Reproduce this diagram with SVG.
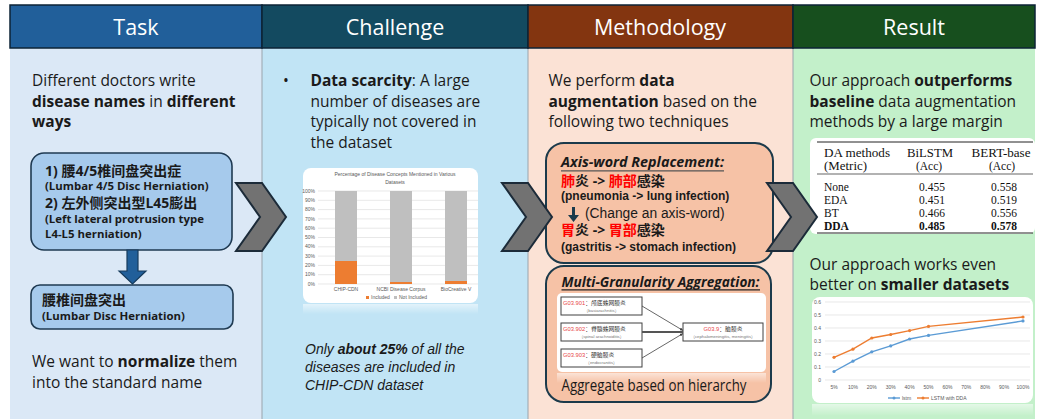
<svg xmlns="http://www.w3.org/2000/svg" width="1038" height="419" viewBox="0 0 1038 419">
<defs>
<style>
.hd{font-family:"Open Sans","Noto Sans",sans-serif;font-size:21.5px;fill:#ffffff;text-anchor:middle}
.bd{font-family:"Open Sans","Noto Sans CJK SC",sans-serif;font-size:15.5px;fill:#1a1a1a}
.b{font-weight:bold}
.it{font-family:"Liberation Sans",Arial,sans-serif;font-style:italic;font-size:14px;fill:#1a1a1a}
.sm{font-family:"Open Sans","Noto Sans CJK SC",sans-serif;font-weight:bold;font-size:11.4px;fill:#1a1a1a}
.sl{font-family:"Liberation Sans",Arial,sans-serif;font-weight:bold;font-size:12px;fill:#1a1a1a}
.cn{font-family:"Open Sans","Noto Sans CJK SC",sans-serif;font-weight:bold;font-size:14px;fill:#1a1a1a}
.red{fill:#ff0000}
.tiny{font-family:"Liberation Sans",Arial,sans-serif;font-size:5px;fill:#595959}
.tb{font-family:"Liberation Serif","Times New Roman",serif;font-size:11.5px;fill:#111111}
.chev{fill:#727272;stroke:#1c2b39;stroke-width:2;stroke-linejoin:miter}
.bluebox{fill:#a6caec;stroke:#1f3a52;stroke-width:1.6}
.salbox{fill:#f6c2a6;stroke:#1b3a4b;stroke-width:2}
.grid{stroke:#d9d9d9;stroke-width:0.6}
.mbox{fill:#ffffff;stroke:#404040;stroke-width:1}
.mt{font-family:"Liberation Sans","Noto Sans CJK SC",sans-serif;font-size:5.8px;fill:#333333}
.ms{font-family:"Liberation Sans","Noto Sans CJK SC",sans-serif;font-size:4.3px;fill:#777777}
.mred{fill:#e8474a}
.bi{font-family:"Open Sans","Noto Sans",sans-serif;font-weight:bold;font-style:italic;font-size:13.5px;fill:#1a1a1a}
</style>
<linearGradient id="refl" x1="0" y1="0" x2="0" y2="1">
<stop offset="0" stop-color="#ffffff" stop-opacity="0.55"/>
<stop offset="1" stop-color="#ffffff" stop-opacity="0"/>
</linearGradient>
<marker id="ah" viewBox="0 0 6 6" refX="6" refY="3" markerWidth="4" markerHeight="4" orient="auto">
<path d="M0,0 L6,3 L0,6 z" fill="#404040"/>
</marker>
</defs>

<!-- panels -->
<g id="panels">
<rect x="10" y="48" width="252" height="371" fill="#dbe8f6"/>
<rect x="262" y="48" width="266" height="371" fill="#c1e4f5"/>
<rect x="528" y="48" width="265" height="371" fill="#fbe2d5"/>
<rect x="793" y="48" width="242" height="371" fill="#c3f0ca"/>
<line x1="262" y1="48" x2="262" y2="419" stroke="#9aa4ad" stroke-width="1"/>
<line x1="528" y1="48" x2="528" y2="419" stroke="#9aa4ad" stroke-width="1"/>
<line x1="793" y1="48" x2="793" y2="419" stroke="#9aa4ad" stroke-width="1"/>
</g>

<!-- headers -->
<g id="header-task">
<rect x="10" y="5" width="252" height="43" fill="#215f9a" stroke="#0c2336" stroke-width="1.5"/>
<text class="hd" x="136" y="35">Task</text>
</g>
<g id="header-challenge">
<rect x="262" y="5" width="266" height="43" fill="#134a60" stroke="#0c2336" stroke-width="1.5"/>
<text class="hd" x="395" y="35">Challenge</text>
</g>
<g id="header-methodology">
<rect x="528" y="5" width="265" height="43" fill="#833510" stroke="#0c2336" stroke-width="1.5"/>
<text class="hd" x="660" y="35">Methodology</text>
</g>
<g id="header-result">
<rect x="793" y="5" width="242" height="43" fill="#174f1e" stroke="#0c2336" stroke-width="1.5"/>
<text class="hd" x="914" y="35">Result</text>
</g>

<!-- Task column -->
<g id="task-intro">
<text class="bd" x="32" y="86">Different doctors write</text>
<text class="bd" x="32" y="106.5"><tspan class="b">disease names</tspan> in <tspan class="b">different</tspan></text>
<text class="bd b" x="32" y="127">ways</text>
</g>
<g id="task-variants">
<rect class="bluebox" x="31" y="153" width="201" height="97" rx="13"/>
<text class="cn" x="45" y="176">1) 腰4/5椎间盘突出症</text>
<text class="sm" x="45" y="190">(Lumbar 4/5 Disc Herniation)</text>
<text class="cn" x="45" y="208">2) 左外侧突出型L45膨出</text>
<text class="sm" x="45" y="223">(Left lateral protrusion type</text>
<text class="sm" x="45" y="237.5">L4-L5 herniation)</text>
</g>
<g id="task-standard">
<rect class="bluebox" x="31" y="285" width="202" height="44" rx="9"/>
<text class="cn" x="42" y="305">腰椎间盘突出</text>
<text class="sm" x="42" y="319.5">(Lumbar Disc Herniation)</text>
</g>
<g id="task-goal">
<text class="bd" x="32" y="367">We want to <tspan class="b">normalize</tspan> them</text>
<text class="bd" x="32" y="387.5">into the standard name</text>
</g>

<!-- Challenge column -->
<g id="challenge-text">
<text class="bd" x="283" y="86">•</text>
<text class="bd" x="310.5" y="86"><tspan class="b">Data scarcity</tspan>: A large</text>
<text class="bd" x="310.5" y="106.5">number of diseases are</text>
<text class="bd" x="310.5" y="127">typically not covered in</text>
<text class="bd" x="310.5" y="147.5">the dataset</text>
</g>
<g id="challenge-chart">
<rect x="303" y="168" width="175" height="135" rx="8" fill="#ffffff"/>
<rect x="303" y="304" width="175" height="10" fill="url(#refl)"/>
<text class="tiny" x="395" y="175.5" text-anchor="middle" font-size="5.5">Percentage of Disease Concepts Mentioned in Various</text>
<text class="tiny" x="395" y="183.5" text-anchor="middle" font-size="5.5">Datasets</text>
<g>
<line class="grid" x1="318" y1="191" x2="478" y2="191"/>
<line class="grid" x1="318" y1="200.3" x2="478" y2="200.3"/>
<line class="grid" x1="318" y1="209.6" x2="478" y2="209.6"/>
<line class="grid" x1="318" y1="218.9" x2="478" y2="218.9"/>
<line class="grid" x1="318" y1="228.2" x2="478" y2="228.2"/>
<line class="grid" x1="318" y1="237.5" x2="478" y2="237.5"/>
<line class="grid" x1="318" y1="246.8" x2="478" y2="246.8"/>
<line class="grid" x1="318" y1="256.1" x2="478" y2="256.1"/>
<line class="grid" x1="318" y1="265.4" x2="478" y2="265.4"/>
<line class="grid" x1="318" y1="274.7" x2="478" y2="274.7"/>
<line class="grid" x1="318" y1="284" x2="478" y2="284"/>
</g>
<g class="tiny" text-anchor="end" font-size="4.6">
<text x="315" y="192.6">100%</text>
<text x="315" y="201.9">90%</text>
<text x="315" y="211.2">80%</text>
<text x="315" y="220.5">70%</text>
<text x="315" y="229.8">60%</text>
<text x="315" y="239.1">50%</text>
<text x="315" y="248.4">40%</text>
<text x="315" y="257.7">30%</text>
<text x="315" y="267">20%</text>
<text x="315" y="276.3">10%</text>
<text x="315" y="285.6">0%</text>
</g>
<rect x="335" y="191" width="22" height="70" fill="#bfbfbf"/>
<rect x="335" y="261" width="22" height="23" fill="#ed7d31"/>
<rect x="390" y="191" width="22" height="91" fill="#bfbfbf"/>
<rect x="390" y="282" width="22" height="2" fill="#ed7d31"/>
<rect x="445" y="191" width="22" height="90" fill="#bfbfbf"/>
<rect x="445" y="281" width="22" height="3" fill="#ed7d31"/>
<g class="tiny" text-anchor="middle" font-size="5">
<text x="346" y="291">CHIP-CDN</text>
<text x="401" y="291">NCBI Disease Corpus</text>
<text x="456" y="291">BioCreative V</text>
</g>
<rect x="366" y="296" width="3" height="3" fill="#ed7d31"/>
<text class="tiny" x="371" y="299" font-size="4.6">Included</text>
<rect x="394" y="296" width="3" height="3" fill="#bfbfbf"/>
<text class="tiny" x="399" y="299" font-size="4.6">Not Included</text>
</g>
<g id="challenge-note">
<text class="it" x="305" y="354">Only <tspan class="b">about 25%</tspan> of all the</text>
<text class="it" x="305" y="372">diseases are included in</text>
<text class="it" x="305" y="390">CHIP-CDN dataset</text>
</g>

<!-- Methodology column -->
<g id="method-intro">
<text class="bd" x="548.5" y="86">We perform <tspan class="b">data</tspan></text>
<text class="bd" x="548.5" y="106.5"><tspan class="b">augmentation</tspan> based on the</text>
<text class="bd" x="548.5" y="127">following two techniques</text>
</g>
<g id="method-axis">
<rect class="salbox" x="546" y="143" width="227" height="120" rx="18"/>
<text class="bi" x="561" y="167" textLength="163" lengthAdjust="spacingAndGlyphs">Axis-word Replacement:</text>
<line x1="561" y1="170.8" x2="724" y2="170.8" stroke="#555555" stroke-width="1.2"/>
<text class="cn" x="561" y="185.5" font-size="14.5"><tspan class="red">肺</tspan>炎 -&gt; <tspan class="red">肺部</tspan>感染</text>
<text class="sl" x="561" y="200">(pneumonia -&gt; lung infection)</text>
<text x="585" y="217.5" font-family="Liberation Sans, Arial, sans-serif" font-size="13.8" fill="#1a1a1a">(Change an axis-word)</text>
<text class="cn" x="561" y="235" font-size="14.5"><tspan class="red">胃</tspan>炎 -&gt; <tspan class="red">胃部</tspan>感染</text>
<text class="sl" x="561" y="250.5">(gastritis -&gt; stomach infection)</text>
</g>
<g id="method-aggregation">
<rect class="salbox" x="546" y="266" width="225" height="136" rx="18"/>
<text class="bi" x="561.5" y="286.5" textLength="198" lengthAdjust="spacingAndGlyphs">Multi-Granularity Aggregation:</text>
<line x1="561.5" y1="289.8" x2="760" y2="289.8" stroke="#222222" stroke-width="1.2"/>
<rect x="557" y="293" width="209" height="79" rx="5" fill="#ffffff"/>
<rect x="557" y="373" width="209" height="10" fill="url(#refl)"/>
<rect class="mbox" x="561" y="297" width="81" height="18"/>
<text class="mt" x="563" y="305"><tspan class="mred">G03.901</tspan>：颅底蛛网膜炎</text>
<text class="ms" x="601.5" y="312.3" text-anchor="middle">（basiarachnitis）</text>
<rect class="mbox" x="561" y="323" width="81" height="18"/>
<text class="mt" x="563" y="331"><tspan class="mred">G03.902</tspan>：脊髓蛛网膜炎</text>
<text class="ms" x="601.5" y="338.3" text-anchor="middle">（spinal arachnoiditis）</text>
<rect class="mbox" x="561" y="349" width="81" height="18"/>
<text class="mt" x="563" y="357"><tspan class="mred">G03.903</tspan>：硬脑膜炎</text>
<text class="ms" x="601.5" y="364.3" text-anchor="middle">（endocranitis）</text>
<rect class="mbox" x="683" y="323" width="80" height="18"/>
<text class="mt" x="723" y="331" text-anchor="middle"><tspan class="mred">G03.9</tspan>：脑膜炎</text>
<text class="ms" x="723" y="338.3" text-anchor="middle">（cephalomeningitis, meningitis）</text>
<text class="bd" x="561.5" y="391" font-size="13.5" textLength="185" lengthAdjust="spacingAndGlyphs">Aggregate based on hierarchy</text>
</g>

<!-- Result column -->
<g id="result-intro">
<text class="bd" x="809.5" y="86">Our approach <tspan class="b">outperforms</tspan></text>
<text class="bd" x="809.5" y="106.5"><tspan class="b">baseline</tspan> data augmentation</text>
<text class="bd" x="809.5" y="127">methods by a large margin</text>
</g>
<g id="result-table">
<rect x="810" y="138" width="225" height="96" rx="6" fill="#ffffff"/>
<line x1="817" y1="142" x2="1033" y2="142" stroke="#222" stroke-width="1"/>
<line x1="817" y1="174" x2="1033" y2="174" stroke="#222" stroke-width="0.7"/>
<line x1="817" y1="233" x2="1033" y2="233" stroke="#222" stroke-width="1"/>
<text class="tb" x="824" y="157" textLength="66" lengthAdjust="spacingAndGlyphs">DA methods</text>
<text class="tb" x="824" y="169.5" textLength="43" lengthAdjust="spacingAndGlyphs">(Metric)</text>
<text class="tb" x="930" y="157" text-anchor="middle" textLength="46" lengthAdjust="spacingAndGlyphs">BiLSTM</text>
<text class="tb" x="929" y="169.5" text-anchor="middle">(Acc)</text>
<text class="tb" x="1001" y="157" text-anchor="middle" textLength="59" lengthAdjust="spacingAndGlyphs">BERT-base</text>
<text class="tb" x="1002" y="169.5" text-anchor="middle">(Acc)</text>
<text class="tb" x="824" y="191">None</text>
<text class="tb" x="824" y="204">EDA</text>
<text class="tb" x="824" y="217">BT</text>
<text class="tb" x="824" y="230" font-weight="bold">DDA</text>
<g text-anchor="middle">
<text class="tb" x="932" y="191">0.455</text>
<text class="tb" x="932" y="204">0.451</text>
<text class="tb" x="932" y="217">0.466</text>
<text class="tb" x="932" y="230" font-weight="bold">0.485</text>
<text class="tb" x="1004" y="191">0.558</text>
<text class="tb" x="1004" y="204">0.519</text>
<text class="tb" x="1004" y="217">0.556</text>
<text class="tb" x="1004" y="230" font-weight="bold">0.578</text>
</g>
</g>
<g id="result-small">
<text class="bd" x="809.5" y="269.5">Our approach works even</text>
<text class="bd" x="809.5" y="290">better on <tspan class="b">smaller datasets</tspan></text>
</g>
<g id="result-chart">
<rect x="812" y="297" width="221" height="106" rx="8" fill="#ffffff"/>
<rect x="812" y="404" width="221" height="12" fill="url(#refl)"/>
<g>
<line class="grid" x1="825" y1="302" x2="1030" y2="302"/>
<line class="grid" x1="825" y1="315" x2="1030" y2="315"/>
<line class="grid" x1="825" y1="328" x2="1030" y2="328"/>
<line class="grid" x1="825" y1="341" x2="1030" y2="341"/>
<line class="grid" x1="825" y1="354" x2="1030" y2="354"/>
<line class="grid" x1="825" y1="367" x2="1030" y2="367"/>
<line class="grid" x1="825" y1="380" x2="1030" y2="380" stroke="#bfbfbf"/>
</g>
<g class="tiny" text-anchor="end" font-size="4.8">
<text x="821" y="303.7">0.6</text>
<text x="821" y="316.7">0.5</text>
<text x="821" y="329.7">0.4</text>
<text x="821" y="342.7">0.3</text>
<text x="821" y="355.7">0.2</text>
<text x="821" y="368.7">0.1</text>
<text x="821" y="381.7">0</text>
</g>
<g class="tiny" text-anchor="middle" font-size="4.8">
<text x="834" y="389">5%</text>
<text x="852.9" y="389">10%</text>
<text x="871.8" y="389">20%</text>
<text x="890.7" y="389">30%</text>
<text x="909.6" y="389">40%</text>
<text x="928.5" y="389">50%</text>
<text x="947.4" y="389">60%</text>
<text x="966.3" y="389">70%</text>
<text x="985.2" y="389">80%</text>
<text x="1004.1" y="389">90%</text>
<text x="1023" y="389">100%</text>
</g>
<polyline points="834,371.5 852.9,361.2 871.8,351.8 890.7,345.9 909.6,339 928.5,335.4 1023,320.9" fill="none" stroke="#5b9bd5" stroke-width="1.4"/>
<polyline points="834,357.3 852.9,349.2 871.8,338 890.7,334.5 909.6,330.6 928.5,326.4 1023,317" fill="none" stroke="#ed7d31" stroke-width="1.4"/>
<g fill="#5b9bd5">
<circle cx="834" cy="371.5" r="1.6"/><circle cx="852.9" cy="361.2" r="1.6"/><circle cx="871.8" cy="351.8" r="1.6"/><circle cx="890.7" cy="345.9" r="1.6"/><circle cx="909.6" cy="339" r="1.6"/><circle cx="928.5" cy="335.4" r="1.6"/><circle cx="1023" cy="320.9" r="1.6"/>
</g>
<g fill="#ed7d31">
<circle cx="834" cy="357.3" r="1.6"/><circle cx="852.9" cy="349.2" r="1.6"/><circle cx="871.8" cy="338" r="1.6"/><circle cx="890.7" cy="334.5" r="1.6"/><circle cx="909.6" cy="330.6" r="1.6"/><circle cx="928.5" cy="326.4" r="1.6"/><circle cx="1023" cy="317" r="1.6"/>
</g>
<line x1="888" y1="398" x2="900" y2="398" stroke="#5b9bd5" stroke-width="1.4"/>
<circle cx="894" cy="398" r="1.5" fill="#5b9bd5"/>
<text class="tiny" x="902" y="399.7" font-size="4.8">lstm</text>
<line x1="917" y1="398" x2="929" y2="398" stroke="#ed7d31" stroke-width="1.4"/>
<circle cx="923" cy="398" r="1.5" fill="#ed7d31"/>
<text class="tiny" x="931" y="399.7" font-size="4.8">LSTM with DDA</text>
</g>

<!-- connectors -->
<g id="connectors">
<polygon class="chev" points="236,183 262,183 286,217 262,251 236,251 260,217"/>
<polygon class="chev" points="502,183 528,183 552,217 528,251 502,251 526,217"/>
<polygon class="chev" points="767,183 793,183 817,217 793,251 767,251 791,217"/>
<polygon points="127,250 138,250 138,271 146,271 132.5,284 119,271 127,271" fill="#215f9a" stroke="#163b5c" stroke-width="1.2"/>
<polygon points="572,207 575,207 575,215 579,215 573.5,222 568,215 572,215" fill="#1b3a4b"/>
<line x1="642" y1="306" x2="683" y2="330.5" stroke="#404040" stroke-width="0.8" marker-end="url(#ah)"/>
<line x1="642" y1="332" x2="683" y2="332" stroke="#555555" stroke-width="1.8"/>
<line x1="642" y1="358" x2="683" y2="333.5" stroke="#404040" stroke-width="0.8" marker-end="url(#ah)"/>
</g>
</svg>
